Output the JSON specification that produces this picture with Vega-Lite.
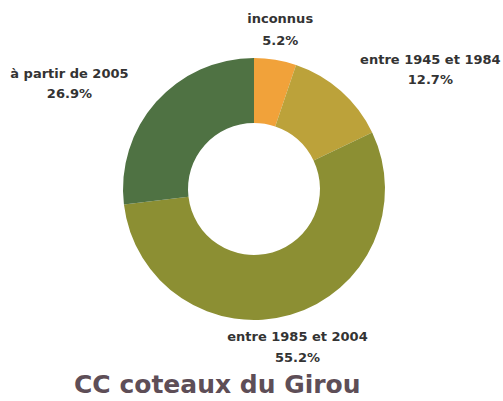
{
  "$schema": "https://vega.github.io/schema/vega-lite/v6.json",
  "width": 508,
  "height": 378,
  "autosize": "none",
  "padding": {"left": 0, "top": 0, "right": 0, "bottom": 23},
  "background": "white",
  "title": {
    "text": "CC coteaux du Girou",
    "orient": "bottom",
    "anchor": "start",
    "dx": 74,
    "offset": -5,
    "font": "DejaVu Sans",
    "fontSize": 25,
    "fontWeight": "bold",
    "color": "#5e4e57"
  },
  "data": {
    "values": [
      {"cat": "inconnus", "pct": 5.2, "ord": 1},
      {"cat": "entre 1945 et 1984", "pct": 12.7, "ord": 2},
      {"cat": "entre 1985 et 2004", "pct": 55.2, "ord": 3},
      {"cat": "à partir de 2005", "pct": 26.9, "ord": 4}
    ]
  },
  "transform": [
    {"stack": "pct", "groupby": [], "sort": [{"field": "ord", "order": "ascending"}], "as": ["s0", "s1"]},
    {"calculate": "(datum.s0 + datum.s1) / 2", "as": "mid"},
    {"calculate": "datum.cat + '\\n' + format(datum.pct, '.1f') + '%'", "as": "label"}
  ],
  "config": {"view": {"stroke": null}},
  "layer": [
    {
      "mark": {"type": "arc", "innerRadius": 66, "outerRadius": 131},
      "encoding": {
        "theta": {"field": "s0", "type": "quantitative", "scale": {"domain": [0, 100.0]}, "stack": null},
        "theta2": {"field": "s1"},
        "color": {
          "field": "cat",
          "type": "nominal",
          "scale": {
            "domain": ["inconnus", "entre 1945 et 1984", "entre 1985 et 2004", "à partir de 2005"],
            "range": ["#f1a23a", "#bca23a", "#8c8f33", "#4f7243"]
          },
          "legend": null
        }
      }
    },
    {
      "transform": [{"filter": "datum.cat == 'inconnus'"}],
      "mark": {"type": "text", "radius": 161, "dx": 0, "dy": -11, "lineBreak": "\n", "lineHeight": 22, "font": "DejaVu Sans", "fontSize": 13, "fontWeight": "bold", "color": "#333333", "align": "center", "baseline": "middle"},
      "encoding": {
        "theta": {"field": "mid", "type": "quantitative", "scale": {"domain": [0, 100.0]}, "stack": null},
        "text": {"field": "label"}
      }
    },
    {
      "transform": [{"filter": "datum.cat == 'entre 1945 et 1984'"}],
      "mark": {"type": "text", "radius": 213, "dx": 35, "dy": 30, "lineBreak": "\n", "lineHeight": 20, "font": "DejaVu Sans", "fontSize": 13, "fontWeight": "bold", "color": "#333333", "align": "center", "baseline": "middle"},
      "encoding": {
        "theta": {"field": "mid", "type": "quantitative", "scale": {"domain": [0, 100.0]}, "stack": null},
        "text": {"field": "label"}
      }
    },
    {
      "transform": [{"filter": "datum.cat == 'entre 1985 et 2004'"}],
      "mark": {"type": "text", "radius": 163, "dx": -2, "dy": -9, "lineBreak": "\n", "lineHeight": 21, "font": "DejaVu Sans", "fontSize": 13, "fontWeight": "bold", "color": "#333333", "align": "center", "baseline": "middle"},
      "encoding": {
        "theta": {"field": "mid", "type": "quantitative", "scale": {"domain": [0, 100.0]}, "stack": null},
        "text": {"field": "label"}
      }
    },
    {
      "transform": [{"filter": "datum.cat == 'à partir de 2005'"}],
      "mark": {"type": "text", "radius": 212, "dx": -26, "dy": 26, "lineBreak": "\n", "lineHeight": 20, "font": "DejaVu Sans", "fontSize": 13, "fontWeight": "bold", "color": "#333333", "align": "center", "baseline": "middle"},
      "encoding": {
        "theta": {"field": "mid", "type": "quantitative", "scale": {"domain": [0, 100.0]}, "stack": null},
        "text": {"field": "label"}
      }
    }
  ]
}
